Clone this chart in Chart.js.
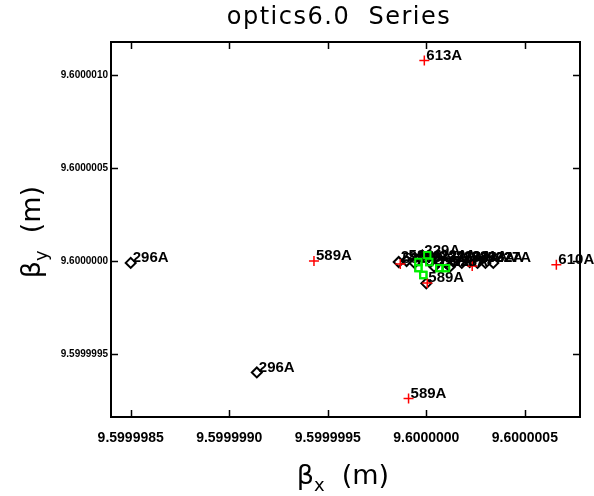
<!DOCTYPE html>
<html>
<head>
<meta charset="utf-8">
<script src="https://cdn.jsdelivr.net/npm/chart.js@4/dist/chart.umd.min.js"></script>
<style>
  html, body { margin: 0; padding: 0; background: #fff; }
  #wrap { width: 594px; height: 496px; }
</style>
</head>
<body>
<div id="wrap"><canvas id="chart"></canvas></div>
<script>
// ----------------------------------------------------------
// optics6.0 series: beta_y vs beta_x per element
// ----------------------------------------------------------

const chartTitle = "optics6.0  Series";

// axis ranges and ticks (m)
const xRange = [9.5999984, 9.60000078];
const yRange = [9.59999916, 9.60000118];
const xTicks = [9.5999985, 9.5999990, 9.5999995, 9.6000000, 9.6000005];
const yTicks = [9.5999995, 9.6000000, 9.6000005, 9.6000010];

// red crosses
const crossX = [9.59999999, 9.59999943, 9.60000066, 9.59999991, 9.599999868, 9.600000005, 9.600000233];
const crossY = [9.60000108, 9.6, 9.59999998, 9.59999926, 9.599999984, 9.599999882, 9.599999973];
const crossLabels = ["613A", "589A", "610A", "589A", "589A", "", ""];

// black diamonds
const diamondX = [9.5999985, 9.59999914,
  9.59999986, 9.5999999, 9.59999994, 9.59999998, 9.60000002, 9.60000006,
  9.6000001, 9.60000014, 9.60000018, 9.60000022, 9.60000026, 9.6000003,
  9.60000034, 9.6, 9.60000004, 9.60000012];
const diamondY = [9.59999999, 9.5999994,
  9.599999995, 9.6, 9.59999999, 9.60000003, 9.599999995, 9.6,
  9.59999999, 9.599999995, 9.59999999, 9.599999995, 9.59999999, 9.59999999,
  9.59999999, 9.59999988, 9.59999997, 9.59999997];
const diamondLabels = ["296A", "296A",
  "296A", "588A", "290A", "229A", "223A", "224A",
  "225A", "226A", "230A", "231A", "293A", "592A",
  "227A", "589A", "590A", "228A"];

// green squares
const squareX = [9.600000005, 9.59999996, 9.59999996, 9.599999985, 9.600000015, 9.600000066, 9.6000001];
const squareY = [9.600000032, 9.599999995, 9.599999962, 9.599999925, 9.599999995, 9.599999962, 9.599999962];
const squareLabels = ["", "", "", "", "", "", ""];

function toPoints(xs, ys)
{
    return xs.map((x, i) => ({ x: x, y: ys[i] }));
}

// frame with inward ticks, point labels, title and axis titles
const decorPlugin = {
    id: "decor",
    afterDatasetsDraw(chart)
    {
        const ctx = chart.ctx;
        const a = chart.chartArea;
        const sx = chart.scales.x, sy = chart.scales.y;

        // point labels
        ctx.save();
        ctx.fillStyle = "#000";
        ctx.font = "bold 15px 'Liberation Sans', Arial, sans-serif";
        ctx.textAlign = "left";
        ctx.textBaseline = "middle";
        const allLabels = [crossLabels, diamondLabels, squareLabels];
        chart.data.datasets.forEach((ds, di) =>
        {
            const meta = chart.getDatasetMeta(di);
            meta.data.forEach((el, i) =>
            {
                const t = allLabels[di][i];
                if (t) ctx.fillText(t, el.x + 2, el.y - 5);
            });
        });
        ctx.restore();

        // green squares sit above the label text
        chart.getDatasetMeta(2).data.forEach(el => el.draw(ctx, a));

        // frame
        ctx.save();
        ctx.strokeStyle = "#000";
        ctx.lineWidth = 2;
        ctx.strokeRect(a.left, a.top, a.right - a.left, a.bottom - a.top);
        ctx.lineWidth = 1.5;
        ctx.beginPath();
        xTicks.forEach(v =>
        {
            const px = Math.round(sx.getPixelForValue(v)) + 0.5;
            ctx.moveTo(px, a.bottom); ctx.lineTo(px, a.bottom - 7);
            ctx.moveTo(px, a.top); ctx.lineTo(px, a.top + 7);
        });
        yTicks.forEach(v =>
        {
            const py = Math.round(sy.getPixelForValue(v)) + 0.5;
            ctx.moveTo(a.left, py); ctx.lineTo(a.left + 7, py);
            ctx.moveTo(a.right, py); ctx.lineTo(a.right - 7, py);
        });
        ctx.stroke();
        ctx.restore();

        // title
        ctx.save();
        ctx.fillStyle = "#000";
        ctx.font = "24px 'DejaVu Sans', sans-serif";
        ctx.letterSpacing = "1.5px";
        ctx.textAlign = "center";
        ctx.textBaseline = "middle";
        ctx.fillText(chartTitle, 339, 18);
        ctx.restore();

        drawBetaTitle(ctx, "x", 343, 484, 0);
        drawBetaTitle(ctx, "y", 40, 232, -Math.PI / 2);
    }
};

function drawBetaTitle(ctx, sub, cx, cy, angle)
{
    ctx.save();
    ctx.translate(cx, cy);
    ctx.rotate(angle);
    ctx.fillStyle = "#000";
    ctx.textBaseline = "alphabetic";
    ctx.textAlign = "left";
    const big = "27px 'DejaVu Sans', sans-serif";
    const small = "18px 'DejaVu Sans', sans-serif";
    ctx.font = big;
    const wB = ctx.measureText("\u03b2").width;
    const wM = ctx.measureText("(m)").width;
    ctx.font = small;
    const wS = ctx.measureText(sub).width;
    const gap = 17;
    const total = wB + wS + gap + wM;
    let x = -total / 2;
    ctx.font = big;
    ctx.fillText("\u03b2", x, 0);
    x += wB;
    ctx.font = small;
    ctx.fillText(sub, x, 7);
    x += wS + gap;
    ctx.font = big;
    ctx.fillText("(m)", x, 0);
    ctx.restore();
}

new Chart(document.getElementById("chart"), {
    type: "scatter",
    data: {
        datasets: [
            {
                label: "cross",
                data: toPoints(crossX, crossY),
                pointStyle: "cross",
                pointRadius: 5,
                borderColor: "#ff0000",
                borderWidth: 1.5,
                backgroundColor: "rgba(0,0,0,0)"
            },
            {
                label: "diamond",
                data: toPoints(diamondX, diamondY),
                pointStyle: "rectRot",
                pointRadius: 5,
                borderColor: "#000",
                borderWidth: 2,
                backgroundColor: "rgba(0,0,0,0)"
            },
            {
                label: "square",
                data: toPoints(squareX, squareY),
                pointStyle: "rect",
                pointRadius: 4.5,
                borderColor: "#00ee00",
                borderWidth: 2,
                backgroundColor: "rgba(0,0,0,0)"
            }
        ]
    },
    options: {
        responsive: true,
        maintainAspectRatio: false,
        animation: false,
        events: [],
        layout: { padding: { top: 42, right: 14, left: 0, bottom: 0 } },
        plugins: {
            legend: { display: false },
            tooltip: { enabled: false }
        },
        scales: {
            x: {
                type: "linear",
                min: xRange[0],
                max: xRange[1],
                grid: { display: false, drawTicks: false },
                border: { display: false },
                afterBuildTicks: s => { s.ticks = xTicks.map(v => ({ value: v })); },
                afterFit: s => { s.height = 79; },
                ticks: {
                    color: "#000",
                    padding: 13,
                    maxRotation: 0,
                    autoSkip: false,
                    font: { family: "'Liberation Sans', Arial, sans-serif", size: 14, weight: "bold" },
                    callback: v => Number(v).toFixed(7)
                }
            },
            y: {
                type: "linear",
                min: yRange[0],
                max: yRange[1],
                grid: { display: false, drawTicks: false },
                border: { display: false },
                afterBuildTicks: s => { s.ticks = yTicks.map(v => ({ value: v })); },
                afterFit: s => { s.width = 111; },
                ticks: {
                    color: "#000",
                    padding: 3,
                    autoSkip: false,
                    font: { family: "'Liberation Sans', Arial, sans-serif", size: 10, weight: "bold" },
                    callback: v => Number(v).toFixed(7)
                }
            }
        }
    },
    plugins: [decorPlugin]
});
</script>
</body>
</html>
